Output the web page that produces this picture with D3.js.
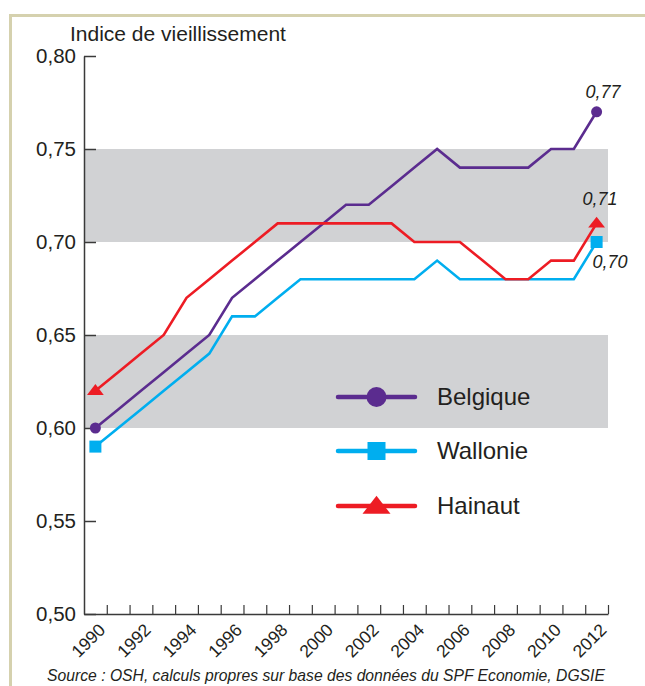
<!DOCTYPE html>
<html>
<head>
<meta charset="utf-8">
<script src="https://cdn.jsdelivr.net/npm/d3@7"></script>
<style>
  body { margin: 0; background: #fff; }
  svg { display: block; font-family: "Liberation Sans", Arial, sans-serif; }
</style>
</head>
<body>
<div id="chart"></div>
<script>
// data
var years = d3.range(1990, 2013);
var belgique = [0.60, 0.61, 0.62, 0.63, 0.64, 0.65, 0.67, 0.68, 0.69, 0.70, 0.71, 0.72, 0.72, 0.73, 0.74, 0.75, 0.74, 0.74, 0.74, 0.74, 0.75, 0.75, 0.77];
var wallonie = [0.59, 0.60, 0.61, 0.62, 0.63, 0.64, 0.66, 0.66, 0.67, 0.68, 0.68, 0.68, 0.68, 0.68, 0.68, 0.69, 0.68, 0.68, 0.68, 0.68, 0.68, 0.68, 0.70];
var hainaut  = [0.62, 0.63, 0.64, 0.65, 0.67, 0.68, 0.69, 0.70, 0.71, 0.71, 0.71, 0.71, 0.71, 0.71, 0.70, 0.70, 0.70, 0.69, 0.68, 0.68, 0.69, 0.69, 0.71];
var yTicks = [0.50, 0.55, 0.60, 0.65, 0.70, 0.75, 0.80];
var bands = [[0.70, 0.75], [0.60, 0.65]];
var endLabels = ["0,77", "0,71", "0,70"];

var series = [
  { name: "Belgique", values: belgique, color: "#5b2c8f", marker: "circle" },
  { name: "Wallonie", values: wallonie, color: "#00aeef", marker: "square" },
  { name: "Hainaut",  values: hainaut,  color: "#ed1c24", marker: "triangle" }
];

var width = 645, height = 686;
var fmt = function(v) { return d3.format(".2f")(v).replace(".", ","); };

var svg = d3.select("#chart").append("svg")
    .attr("width", width)
    .attr("height", height);

// frame
svg.append("path")
    .attr("d", "M10.5,686V15.5H645")
    .attr("fill", "none")
    .attr("stroke", "#d5d1ae")
    .attr("stroke-width", 3);

var x = d3.scaleLinear().domain([1989.5, 2012.5]).range([84, 608]);
var y = d3.scaleLinear().domain([0.5, 0.8]).range([614, 56]);

// grey bands
svg.selectAll("rect.band")
  .data(bands)
  .enter().append("rect")
    .attr("class", "band")
    .attr("x", x(1989.5))
    .attr("width", x(2012.5) - x(1989.5))
    .attr("y", function(d) { return y(d[1]); })
    .attr("height", function(d) { return y(d[0]) - y(d[1]); })
    .attr("fill", "#d1d2d4");

// title
svg.append("text")
    .attr("x", 70)
    .attr("y", 41)
    .attr("font-size", 21)
    .attr("fill", "#231f20")
    .text("Indice de vieillissement");

// y axis
var yAxis = svg.append("g")
    .attr("transform", "translate(" + x(1989.5) + ",0)")
    .call(d3.axisLeft(y).tickValues(yTicks).tickSize(-12).tickSizeOuter(0).tickPadding(8).tickFormat(fmt));
yAxis.select(".domain").attr("stroke", "#3a3a3a").attr("stroke-width", 1.5);
yAxis.selectAll(".tick line").attr("stroke", "#3a3a3a").attr("stroke-width", 1.5);
yAxis.selectAll(".tick text")
    .attr("font-size", 20.5)
    .attr("font-family", "Liberation Sans, Arial, sans-serif")
    .attr("fill", "#231f20");

// x axis: ticks on the year boundaries, pointing up
var xAxis = svg.append("g")
    .attr("transform", "translate(0," + y(0.5) + ")")
    .call(d3.axisBottom(x).tickValues(years.map(function(d) { return d + 0.5; }))
      .tickSize(-9).tickSizeOuter(0).tickFormat(""));
xAxis.select(".domain").attr("stroke", "#3a3a3a").attr("stroke-width", 1.5);
xAxis.selectAll(".tick line").attr("stroke", "#3a3a3a").attr("stroke-width", 1.2);

svg.append("g").selectAll("text")
  .data(years.filter(function(d) { return d % 2 === 0; }))
  .enter().append("text")
    .attr("transform", function(d) { return "translate(" + (x(d) + 11) + "," + 631 + ") rotate(-45)"; })
    .attr("text-anchor", "end")
    .attr("font-size", 17.5)
    .attr("fill", "#231f20")
    .text(function(d) { return d; });

// lines
var line = d3.line()
    .x(function(d, i) { return x(years[i]); })
    .y(function(d) { return y(d); });

svg.append("g").selectAll("path")
  .data(series)
  .enter().append("path")
    .attr("fill", "none")
    .attr("stroke", function(d) { return d.color; })
    .attr("stroke-width", 2.6)
    .attr("stroke-linejoin", "miter")
    .attr("d", function(d) { return line(d.values); });

function drawMarker(g, type, cx, cy, s, color) {
  if (type === "circle") {
    g.append("circle").attr("cx", cx).attr("cy", cy).attr("r", s * 0.5).attr("fill", color);
  } else if (type === "square") {
    g.append("rect").attr("x", cx - s / 2).attr("y", cy - s / 2).attr("width", s).attr("height", s).attr("fill", color);
  } else {
    var h = s * 0.9;
    g.append("path")
      .attr("d", "M" + cx + "," + (cy - h * 0.62) + "L" + (cx + s * 0.7) + "," + (cy + h * 0.38) + "L" + (cx - s * 0.7) + "," + (cy + h * 0.38) + "Z")
      .attr("fill", color);
  }
}

// markers at first and last year
var mk = svg.append("g");
var markerSize = { circle: 11, square: 12, triangle: 12 };
series.forEach(function(s) {
  [0, years.length - 1].forEach(function(i) {
    drawMarker(mk, s.marker, x(years[i]), y(s.values[i]), markerSize[s.marker], s.color);
  });
});

// end value labels
var labelPos = [[603, 98], [600, 205], [610, 268]];
svg.append("g").selectAll("text")
  .data(series)
  .enter().append("text")
    .attr("x", function(d, i) { return labelPos[i][0]; })
    .attr("y", function(d, i) { return labelPos[i][1]; })
    .attr("text-anchor", "middle")
    .attr("font-size", 18)
    .attr("font-style", "italic")
    .attr("fill", "#231f20")
    .text(function(d, i) { return endLabels[i]; });

// legend
var legend = svg.append("g").selectAll("g")
  .data(series)
  .enter().append("g")
    .attr("transform", function(d, i) { return "translate(336," + [397, 451, 506][i] + ")"; });
legend.append("line")
    .attr("x1", 2).attr("x2", 79)
    .attr("stroke", function(d) { return d.color; })
    .attr("stroke-width", 4.5)
    .attr("stroke-linecap", "round");
legend.each(function(d) {
  var big = { circle: 20, square: 18, triangle: 20 };
  drawMarker(d3.select(this), d.marker, 40.5, d.marker === "triangle" ? 1 : 0, big[d.marker], d.color);
});
legend.append("text")
    .attr("x", 101)
    .attr("y", 8)
    .attr("font-size", 24)
    .attr("fill", "#231f20")
    .text(function(d) { return d.name; });

// source
svg.append("text")
    .attr("x", 326)
    .attr("y", 681)
    .attr("text-anchor", "middle")
    .attr("font-size", 15.7)
    .attr("font-style", "italic")
    .attr("fill", "#231f20")
    .text("Source : OSH, calculs propres sur base des données du SPF Economie, DGSIE");
</script>
</body>
</html>
